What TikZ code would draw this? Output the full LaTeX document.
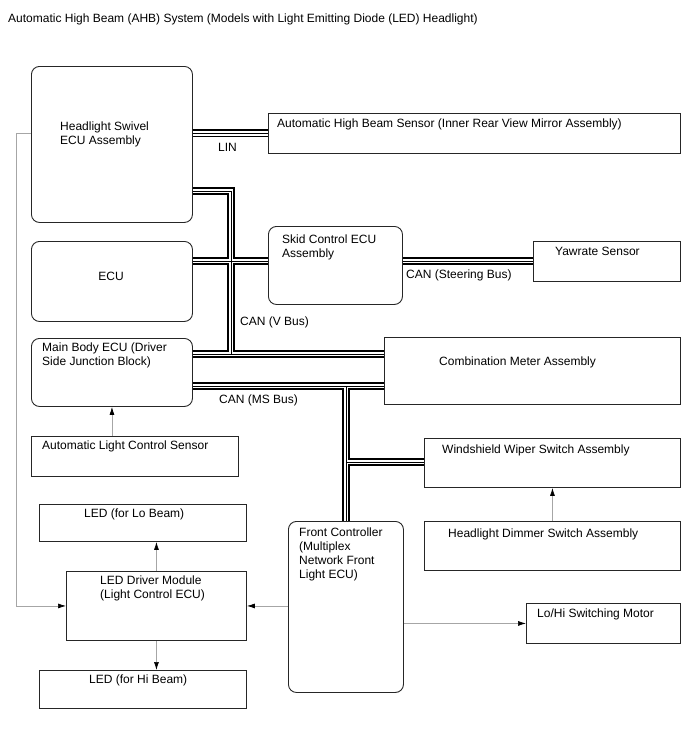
\documentclass[tikz,border=0pt]{standalone}
\usepackage{fontspec}
\setmainfont{Liberation Sans}
\usetikzlibrary{positioning, arrows.meta}

\begin{document}
\begin{tikzpicture}[x=1pt, y=-1pt,
  box/.style={draw=black!85, line width=0.9pt, anchor=north west, inner sep=0pt},
  rbox/.style={box, rounded corners=8pt},
  txt/.style={anchor=base west, inner sep=0pt, align=left,
              font=\fontsize{12}{14.5}\selectfont},
  bus/.style={line width=1pt, line join=miter,
              preaction={draw, line width=8pt},
              preaction={draw, white, line width=4.4pt}},
  link/.style={draw=gray!70, line width=0.7pt,
               -{Latex[black, length=8pt, width=5pt]}}]
  \useasboundingbox (0,0) rectangle (688,755);

  % title
  \node[txt] (title) at (8,22)
    {Automatic High Beam (AHB) System (Models with Light Emitting Diode (LED) Headlight)};

  % boxes
  \node[rbox, minimum width=161pt, minimum height=156pt] (hsw) at (31,66) {};
  \node[box, minimum width=412pt, minimum height=40pt] (ahb) at (268,113) {};
  \node[rbox, minimum width=161pt, minimum height=80pt] (ecu) at (31,241) {};
  \node[rbox, minimum width=134pt, minimum height=78pt] (skid) at (268,226) {};
  \node[box, minimum width=147pt, minimum height=40pt] (yaw) at (533,241) {};
  \node[rbox, minimum width=161pt, minimum height=68pt] (mb) at (31,338) {};
  \node[box, minimum width=296pt, minimum height=67pt] (cma) at (384,337) {};
  \node[box, minimum width=207pt, minimum height=40pt] (alcs) at (31,436) {};
  \node[box, minimum width=256pt, minimum height=49pt] (wws) at (424,438) {};
  \node[box, minimum width=207pt, minimum height=37pt] (lo) at (39,504) {};
  \node[box, minimum width=256pt, minimum height=49pt] (hdss) at (424,521) {};
  \node[rbox, minimum width=115pt, minimum height=171pt] (fc) at (288,521) {};
  \node[box, minimum width=180pt, minimum height=69pt] (drv) at (66,571) {};
  \node[box, minimum width=154pt, minimum height=40pt] (motor) at (526,603) {};
  \node[box, minimum width=207pt, minimum height=38pt] (hi) at (39,670) {};

  % box texts (multi-line ones sit on their last line)
  \node[txt] (hswt) at (60,144.5) {Headlight Swivel\\ECU Assembly};
  \node[txt] (ahbt) at (277,127) {Automatic High Beam Sensor (Inner Rear View Mirror Assembly)};
  \node[txt, anchor=base] (ecut) at (111,280) {ECU};
  \node[txt] (skidt) at (282,257.5) {Skid Control ECU\\Assembly};
  \node[txt] (yawt) at (555,255) {Yawrate Sensor};
  \node[txt] (mbt) at (42,365.5) {Main Body ECU (Driver\\Side Junction Block)};
  \node[txt] (cmat) at (439,365) {Combination Meter Assembly};
  \node[txt] (alcst) at (42,449) {Automatic Light Control Sensor};
  \node[txt] (wwst) at (442,453) {Windshield Wiper Switch Assembly};
  \node[txt] (lot) at (84,517) {LED (for Lo Beam)};
  \node[txt] (hdsst) at (448,537) {Headlight Dimmer Switch Assembly};
  \node[txt, font=\fontsize{12}{14}\selectfont] (fct) at (299,578)
    {Front Controller\\(Multiplex\\Network Front\\Light ECU)};
  \node[txt] (drvt) at (100,598.5) {LED Driver Module\\(Light Control ECU)};
  \node[txt] (motort) at (537,617) {Lo/Hi Switching Motor};
  \node[txt] (hit) at (89,683) {LED (for Hi Beam)};

  % bus labels
  \node[txt] (lin) at (218,151) {LIN};
  \node[txt] (stb) at (406,278) {CAN (Steering Bus)};
  \node[txt] (vbus) at (240,325) {CAN (V Bus)};
  \node[txt] (msbus) at (219,403) {CAN (MS Bus)};

  % bus junctions
  \coordinate (vt) at (231,191);
  \coordinate (sj) at (231,261);
  \coordinate (vj) at (231,354);
  \coordinate (mj) at (346,386);
  \coordinate (wj) at (346,462);

  % buses
  \draw[bus] (hsw.east |- ahb.west) -- (ahb.west)
    (hsw.east |- vt) -- (vt) -- (vj)
    (ecu.east |- sj) -- (skid.west |- sj)
    (skid.east |- sj) -- (yaw.west |- sj)
    (mb.east |- vj) -- (cma.west |- vj)
    (mb.east |- mj) -- (cma.west |- mj)
    (mj) -- (fc.north -| mj)
    (wj) -- (wws.west |- wj);

  % signal lines
  \draw[link] (alcs.north -| mb.south) -- (mb.south);
  \draw[link] (hdss.north) -- (wws.south);
  \draw[link] (drv.north) -- (lo.south -| drv.north);
  \draw[link] (drv.south) -- (hi.north -| drv.south);
  \draw[link] (fc.west |- drv.east) -- (drv.east);
  \draw[link] (fc.east |- motor.west) -- (motor.west);
  \draw[link] (hsw.west |- ahb.west) -- ++(-15,0) |- (drv.west);
\end{tikzpicture}
\end{document}
